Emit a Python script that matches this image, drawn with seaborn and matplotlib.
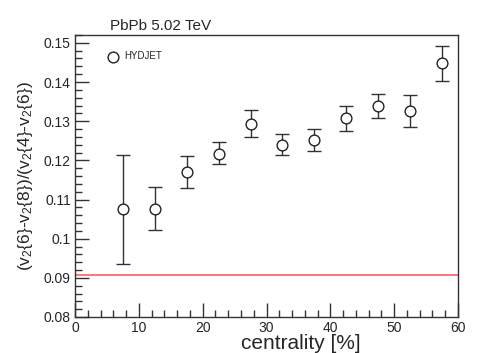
import numpy as np
import pandas as pd
import matplotlib
matplotlib.use("Agg")
import matplotlib.pyplot as plt
from matplotlib.ticker import MultipleLocator
import seaborn as sns

# data
centrality = [7.5, 12.5, 17.5, 22.5, 27.5, 32.5, 37.5, 42.5, 47.5, 52.5, 57.5]
ratio = [0.1075, 0.1077, 0.1169, 0.1217, 0.1294, 0.1240, 0.1252, 0.1308, 0.1339, 0.1327, 0.1448]
err_low = [0.0936, 0.1023, 0.1129, 0.1190, 0.1260, 0.1214, 0.1225, 0.1276, 0.1307, 0.1285, 0.1402]
err_high = [0.1214, 0.1133, 0.1212, 0.1246, 0.1329, 0.1268, 0.1280, 0.1338, 0.1370, 0.1368, 0.1493]
ref_level = 0.0908
ref_range = [0, 60]

df = pd.DataFrame({"centrality": centrality, "ratio": ratio,
                   "lo": err_low, "hi": err_high})

sns.set_theme(style="ticks")
plt.rcParams['font.family'] = ['Liberation Sans', 'DejaVu Sans']
plt.rcParams['mathtext.fontset'] = 'custom'
plt.rcParams['mathtext.rm'] = 'Liberation Sans'
plt.rcParams['mathtext.it'] = 'Liberation Sans'

fig = plt.figure(figsize=(4.98, 3.53), dpi=100)
ax = fig.add_axes([75 / 498, 1 - 317 / 353, (458 - 75) / 498, (317 - 35) / 353])

# red reference line
ax.plot(ref_range, [ref_level, ref_level], color="#ff5c5c", lw=1.2, zorder=1)

# error bars
yerr = np.array([df["ratio"] - df["lo"], df["hi"] - df["ratio"]])
ax.errorbar(df["centrality"], df["ratio"], yerr=yerr, fmt="none",
            ecolor="#333333", elinewidth=1.0, capsize=5, capthick=1.0, zorder=2)

sns.scatterplot(data=df, x="centrality", y="ratio", ax=ax, marker="o",
                s=60, facecolor="white", edgecolor="#222222", linewidth=1.0,
                zorder=3, label="HYDJET", legend=True)

ax.set_xlim(0, 60)
ax.set_ylim(0.08, 0.152)
ax.xaxis.set_major_locator(MultipleLocator(10))
ax.xaxis.set_minor_locator(MultipleLocator(2))
ax.yaxis.set_major_locator(MultipleLocator(0.01))
ax.yaxis.set_minor_locator(MultipleLocator(0.002))
ax.set_yticks([0.08, 0.09, 0.1, 0.11, 0.12, 0.13, 0.14, 0.15])
ax.set_yticklabels(["0.08", "0.09", "0.1", "0.11", "0.12", "0.13", "0.14", "0.15"])
ax.tick_params(which="major", direction="in", length=10, width=1, labelsize=10,
               color="#333333", top=False, right=False, pad=3)
ax.tick_params(which="minor", direction="in", length=5, width=1,
               color="#333333", top=False, right=False)
for sp in ax.spines.values():
    sp.set_color("#333333")
    sp.set_linewidth(1.0)

ax.set_xlabel("centrality [%]", fontsize=15)
ax.xaxis.set_label_coords(0.59, -0.06)
ax.set_ylabel(r"(v$_2${6}-v$_2${8})/(v$_2${4}-v$_2${6})", fontsize=12.5)
ax.yaxis.set_label_coords(-0.105, 0.5)

leg = ax.legend(loc="center left", bbox_to_anchor=(0.075, 0.925), frameon=False,
                fontsize=7, handletextpad=0.1, borderpad=0, borderaxespad=0)

fig.text(110 / 498, 1 - 26 / 353, "PbPb 5.02 TeV", fontsize=11, va="center")

fig.savefig("out.png", dpi=100)
